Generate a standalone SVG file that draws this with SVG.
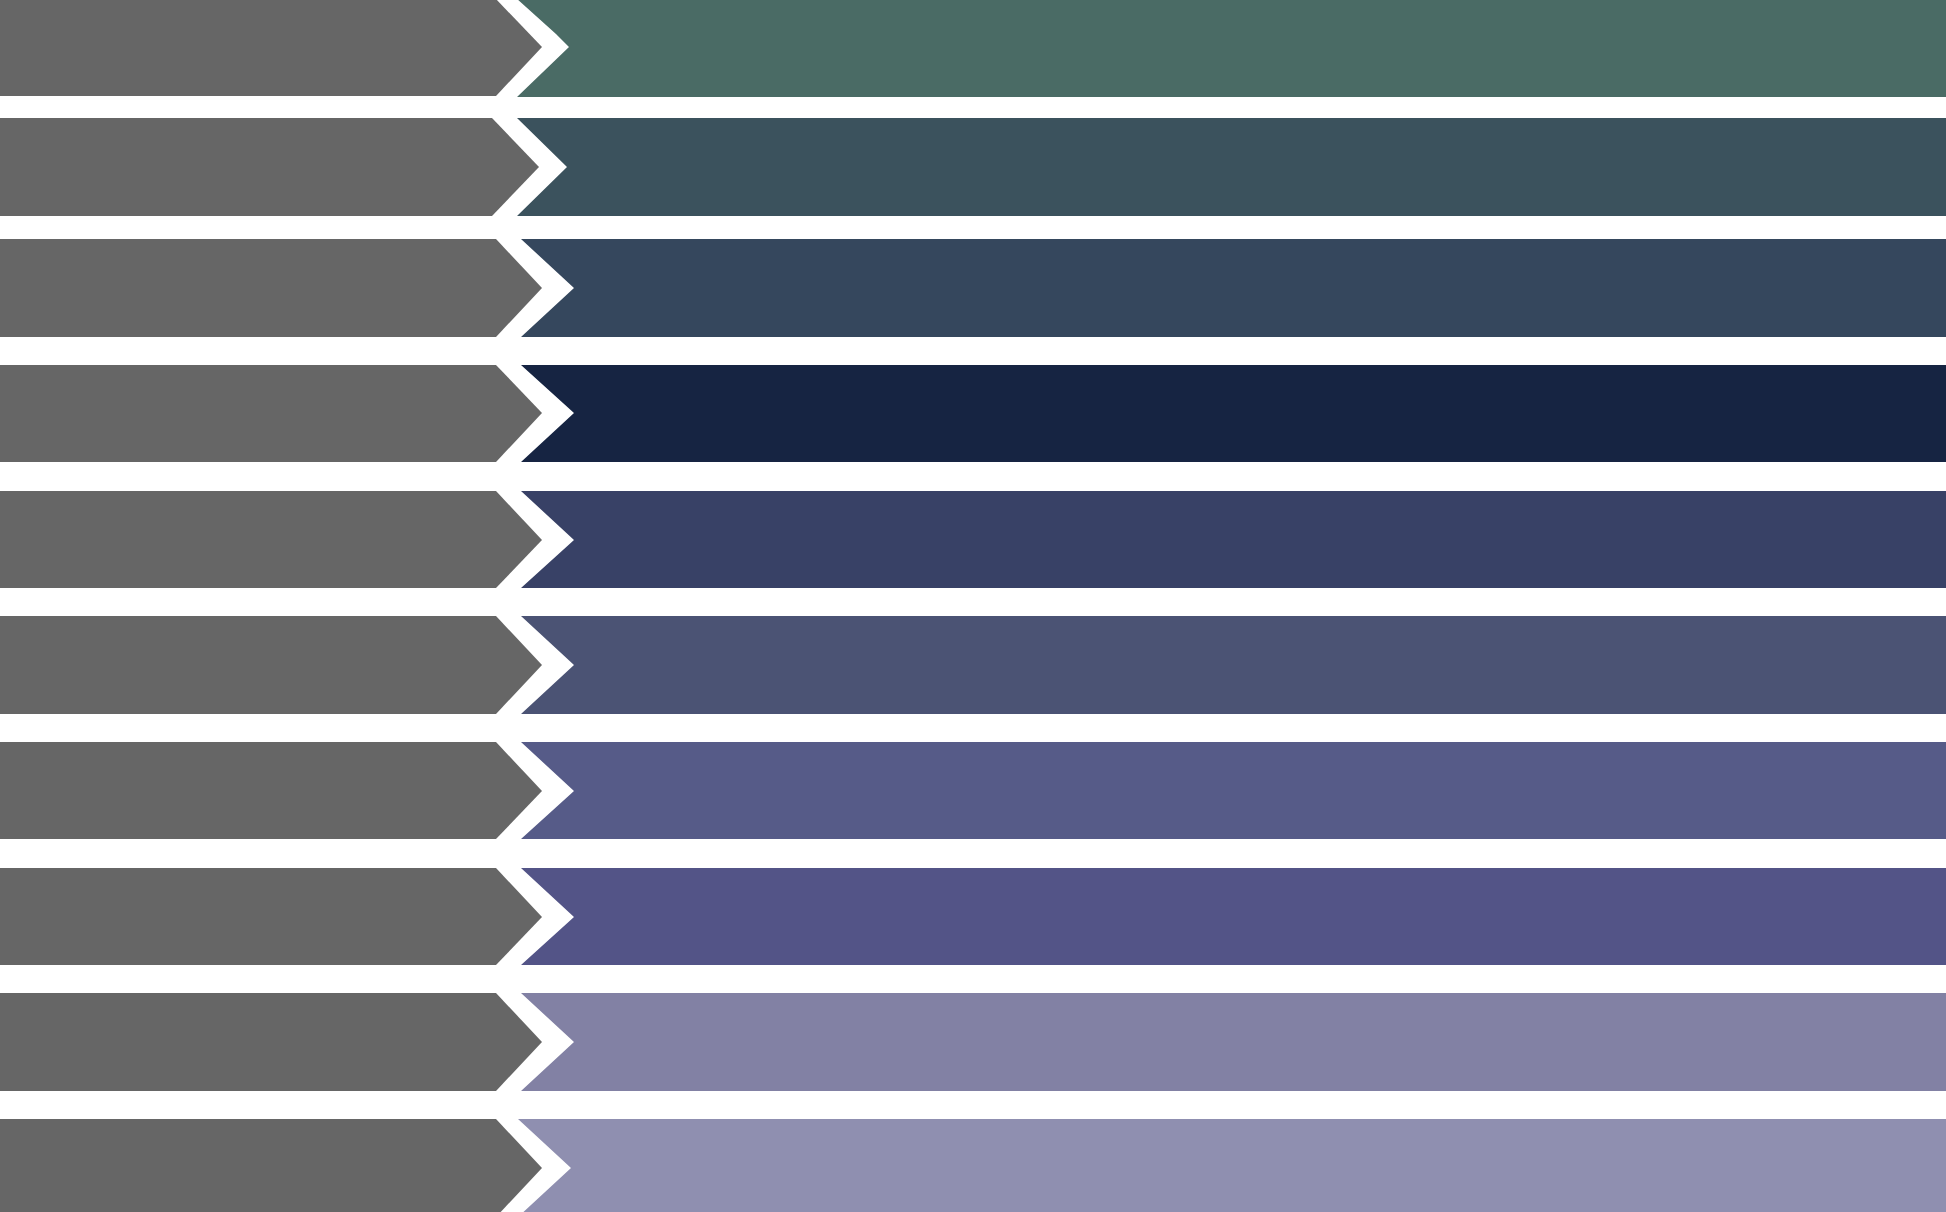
<svg xmlns="http://www.w3.org/2000/svg" width="1946" height="1212" viewBox="0 0 1946 1212">
<style>
.g{fill:#666666}
.c1{fill:#4a6b65}.c2{fill:#3b525d}.c3{fill:#35475d}.c4{fill:#162442}.c5{fill:#384166}
.c6{fill:#4b5374}.c7{fill:#565b88}.c8{fill:#535487}.c9{fill:#8281a4}.c10{fill:#8f8fb0}
</style>
<rect width="1946" height="1212" fill="#ffffff"/>
<g id="row1"><polygon class="g" points="0,-2 495,-2 542,47 496,96 0,96"/><polygon class="c1" points="516,-2 1946,-2 1946,97 517,97 569,47 556,34"/></g>
<g id="row2"><polygon class="g" points="0,118 492,118 539,167 492,216 0,216"/><polygon class="c2" points="517,118 1946,118 1946,216 517,216 567,167"/></g>
<g id="row3"><polygon class="g" points="0,239 496,239 542,288 496,337 0,337"/><polygon class="c3" points="521,239 1946,239 1946,337 521,337 574,288"/></g>
<g id="row4"><polygon class="g" points="0,365 496,365 542,413 496,462 0,462"/><polygon class="c4" points="521,365 1946,365 1946,462 521,462 574,413"/></g>
<g id="row5"><polygon class="g" points="0,491 496,491 542,540 496,588 0,588"/><polygon class="c5" points="521,491 1946,491 1946,588 521,588 574,540"/></g>
<g id="row6"><polygon class="g" points="0,616 496,616 542,665 496,714 0,714"/><polygon class="c6" points="521,616 1946,616 1946,714 521,714 574,665"/></g>
<g id="row7"><polygon class="g" points="0,742 496,742 542,791 496,839 0,839"/><polygon class="c7" points="521,742 1946,742 1946,839 521,839 574,791"/></g>
<g id="row8"><polygon class="g" points="0,868 496,868 542,917 496,965 0,965"/><polygon class="c8" points="521,868 1946,868 1946,965 521,965 574,917"/></g>
<g id="row9"><polygon class="g" points="0,993 496,993 542,1042 496,1091 0,1091"/><polygon class="c9" points="521,993 1946,993 1946,1091 521,1091 574,1042"/></g>
<g id="row10"><polygon class="g" points="0,1119 496,1119 542,1168 496,1217 0,1217"/><polygon class="c10" points="518,1119 1946,1119 1946,1217 518,1217 571,1168"/></g>
<g id="connectors"></g>
</svg>
